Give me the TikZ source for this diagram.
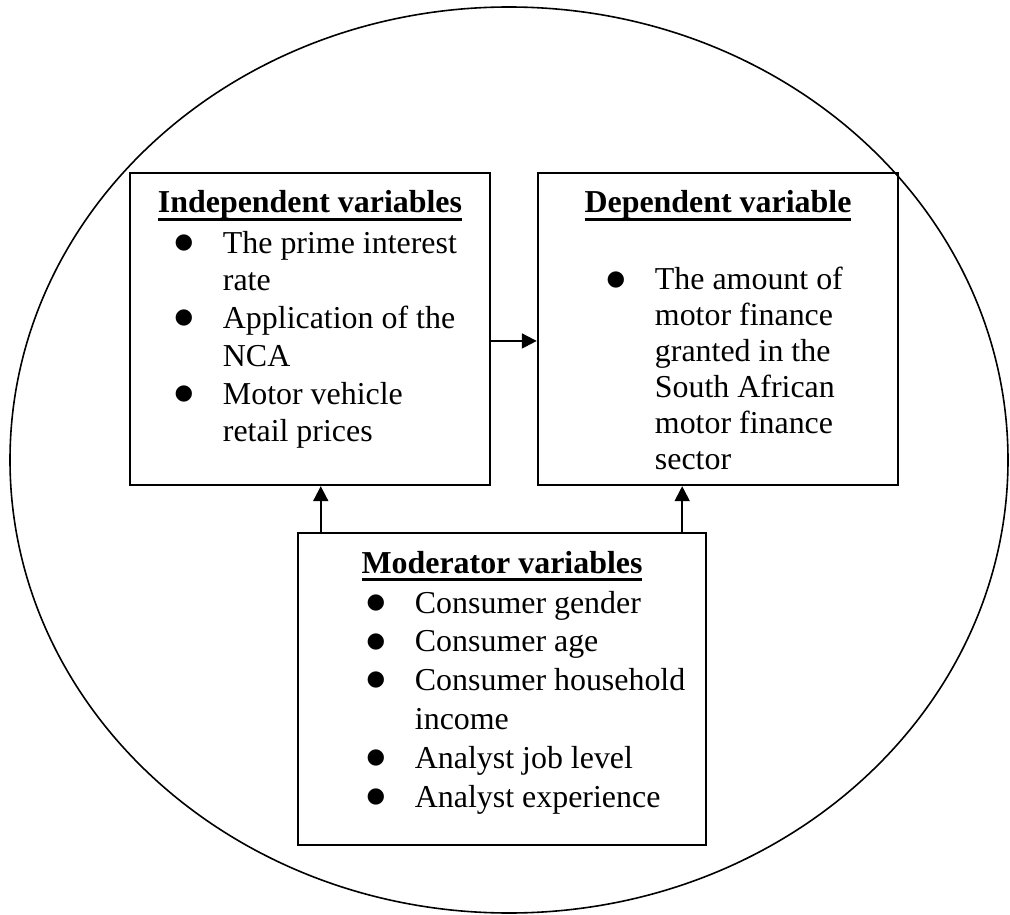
\documentclass[tikz,border=0pt]{standalone}
\usepackage{fontspec}
\setmainfont{Liberation Serif}
\newfontfamily\dotfont{DejaVu Sans}
\usetikzlibrary{arrows.meta}
% heading with a heavy rule under it
\newcommand\titleline[1]{\setbox0\hbox{#1}\rlap{\usebox0}\rule[-3pt]{\wd0}{1.2pt}}
% round list dot
\newcommand\blt{\raisebox{1.8pt}{\dotfont\fontsize{8pt}{10pt}\selectfont ●}}
\begin{document}
\begin{tikzpicture}[x=0.376pt,y=-0.376pt,%
every node/.style={inner sep=0pt, font=\fontsize{12pt}{14.1pt}\selectfont},%
box/.style={draw, line width=0.9pt, minimum height=117.3pt},%
title/.style={anchor=base, font=\fontsize{12pt}{14.1pt}\selectfont\bfseries},%
list/.style={anchor=base west},%
arr/.style={line width=0.75pt, -{Triangle[length=5.6pt,width=5.6pt]}}]
\useasboundingbox (0,0) rectangle (1010,915);
\draw[line width=0.6pt] (509,460) ellipse [x radius=499, y radius=453];
\node (indep) at (310,329) [box, minimum width=135.4pt] {};
\node (dep) at (718,329) [box, minimum width=135.4pt] {};
\node (mod) at (502,689) [box, minimum width=153.4pt] {};
\node (indepTitle) at (310,213) [title] {\titleline{Independent variables}};
\node (depTitle) at (718,213) [title] {\titleline{Dependent variable}};
\node (modTitle) at (502,573) [title] {\titleline{Moderator variables}};
\node (indepList) at (174,253) [list] {\renewcommand\arraystretch{1.008}%
\begin{tabular}[t]{@{}p{18.2pt}@{}l@{}}
\blt & The prime interest\\ & rate\\
\blt & Application of the\\ & NCA\\
\blt & Motor vehicle\\ & retail prices
\end{tabular}};
\node (depList) at (606,290) [list] {\renewcommand\arraystretch{0.955}%
\begin{tabular}[t]{@{}p{18.2pt}@{}l@{}}
\blt & The amount of\\ & motor finance\\ & granted in the\\
& South African\\ & motor finance\\ & sector
\end{tabular}};
\node (modList) at (366,613) [list] {\renewcommand\arraystretch{1.035}%
\begin{tabular}[t]{@{}p{18.2pt}@{}l@{}}
\blt & Consumer gender\\
\blt & Consumer age\\
\blt & Consumer household\\ & income\\
\blt & Analyst job level\\
\blt & Analyst experience
\end{tabular}};
\coordinate (m1) at ([xshift=9pt]mod.north west);
\coordinate (m2) at ([xshift=-9.4pt]mod.north east);
\draw[arr] ([yshift=-4.5pt]indep.east) -- ([yshift=-4.5pt]dep.west);
\draw[arr] (m1) -- (m1 |- indep.south);
\draw[arr] (m2) -- (m2 |- dep.south);
\end{tikzpicture}
\end{document}
